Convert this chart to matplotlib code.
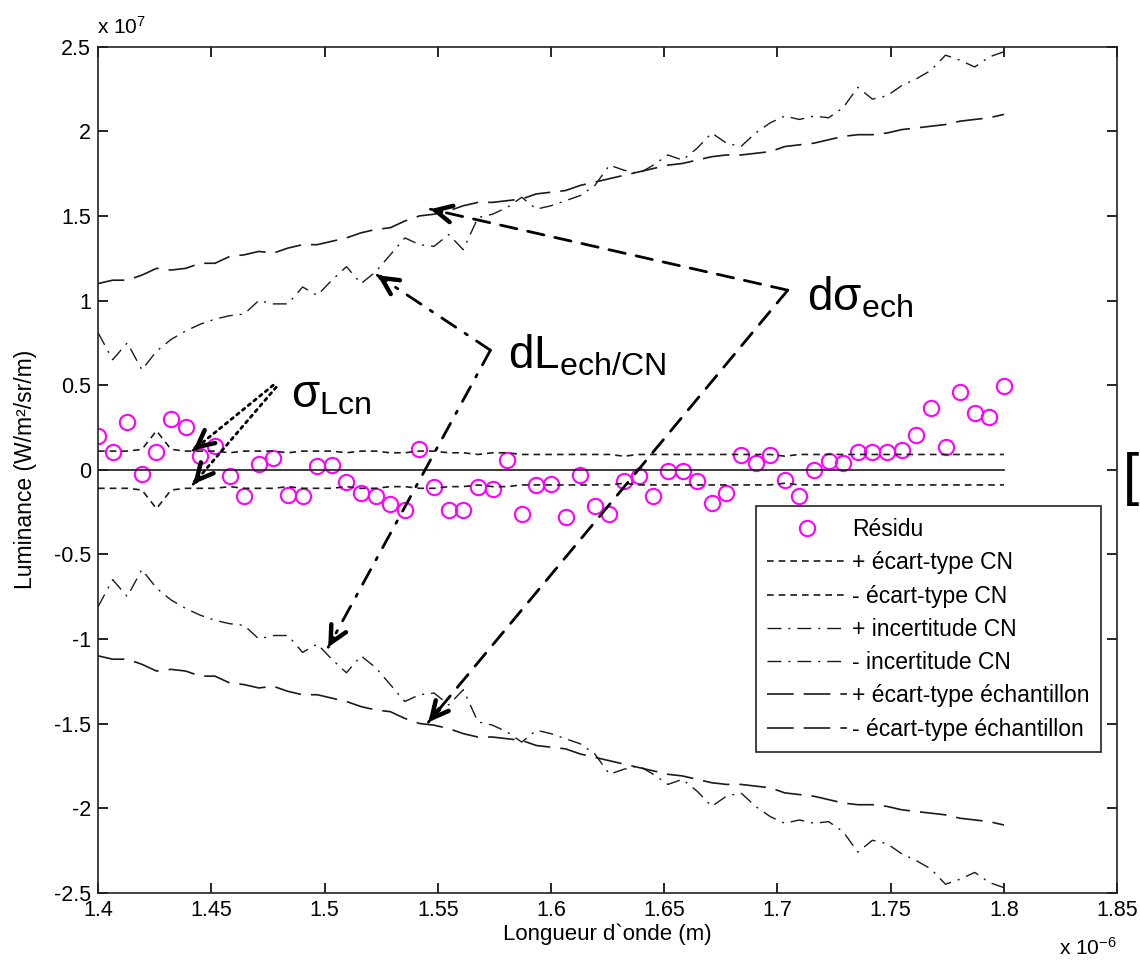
import numpy as np
import matplotlib
matplotlib.use('Agg')
import matplotlib.pyplot as plt

plt.rcParams['font.family'] = ['Liberation Sans', 'DejaVu Sans']
plt.rcParams['mathtext.default'] = 'regular'

# wavelength grid (x 1e-6 m), 63 samples between 1.4 and 1.8
wl = np.linspace(1.4, 1.8, 63)

# values in units of 1e7 W/m2/sr/m
residu = [0.20, 0.103, 0.28, -0.025, 0.103, 0.30, 0.25, 0.08, 0.14, -0.035,
          -0.157, 0.033, 0.072, -0.149, -0.157, 0.023, 0.028, -0.074, -0.137, -0.157,
          -0.20, -0.24, 0.125, -0.10, -0.24, -0.24, -0.10, -0.115, 0.056, -0.263,
          -0.092, -0.086, -0.279, -0.033, -0.216, -0.259, -0.068, -0.038, -0.155, -0.007,
          -0.007, -0.068, -0.196, -0.137, 0.086, 0.04, 0.086, -0.062, -0.155, 0.001,
          0.052, 0.04, 0.105, 0.105, 0.105, 0.119, 0.208, 0.365, 0.135, 0.46,
          0.336, 0.312, 0.494]

sigma_cn = [0.11, 0.11, 0.11, 0.12, 0.23, 0.12, 0.11, 0.11, 0.11, 0.10,
            0.11, 0.11, 0.11, 0.10, 0.11, 0.11, 0.11, 0.10, 0.11, 0.11,
            0.10, 0.10, 0.11, 0.11, 0.10, 0.10, 0.09, 0.10, 0.10, 0.09,
            0.09, 0.09, 0.09, 0.09, 0.09, 0.09, 0.08, 0.09, 0.09, 0.09,
            0.09, 0.09, 0.09, 0.09, 0.09, 0.09, 0.09, 0.08, 0.09, 0.09,
            0.09, 0.09, 0.09, 0.09, 0.09, 0.09, 0.09, 0.09, 0.09, 0.09,
            0.09, 0.09, 0.09]

incert_cn = [0.81, 0.65, 0.75, 0.59, 0.70, 0.77, 0.82, 0.86, 0.89, 0.91,
             0.92, 1.00, 0.98, 0.98, 1.08, 1.03, 1.12, 1.20, 1.10, 1.17,
             1.27, 1.37, 1.33, 1.32, 1.39, 1.30, 1.49, 1.51, 1.55, 1.61,
             1.54, 1.56, 1.59, 1.62, 1.68, 1.80, 1.77, 1.75, 1.80, 1.86,
             1.83, 1.90, 1.99, 1.93, 1.91, 1.99, 2.05, 2.09, 2.07, 2.09,
             2.08, 2.14, 2.26, 2.19, 2.21, 2.27, 2.31, 2.36, 2.45, 2.42,
             2.38, 2.44, 2.47]

sigma_ech = [1.10, 1.12, 1.12, 1.15, 1.19, 1.18, 1.19, 1.22, 1.22, 1.26,
             1.27, 1.29, 1.28, 1.31, 1.33, 1.33, 1.35, 1.37, 1.40, 1.42,
             1.43, 1.47, 1.50, 1.51, 1.53, 1.56, 1.58, 1.58, 1.59, 1.60,
             1.63, 1.64, 1.65, 1.68, 1.70, 1.72, 1.74, 1.76, 1.78, 1.80,
             1.81, 1.83, 1.85, 1.86, 1.86, 1.87, 1.88, 1.91, 1.92, 1.93,
             1.95, 1.97, 1.98, 1.98, 1.99, 2.01, 2.02, 2.03, 2.04, 2.06,
             2.07, 2.08, 2.10]

sigma_cn = np.array(sigma_cn)
incert_cn = np.array(incert_cn)
sigma_ech = np.array(sigma_ech)

LINE = '#1a1a1a'
MAGENTA = '#ff00ff'

fig = plt.figure(figsize=(11.4, 9.63), dpi=100)
ax = fig.add_axes([0.086, 0.073, 0.894, 0.8785])

ax.plot(wl, residu, 'o', mfc='none', mec=MAGENTA, ms=11, mew=1.5, label='Résidu')
ax.plot(wl, sigma_cn, color=LINE, lw=1.2, dashes=(4, 3), label='+ écart-type CN')
ax.plot(wl, -sigma_cn, color=LINE, lw=1.2, dashes=(4, 3), label='- écart-type CN')
ax.plot(wl, incert_cn, color=LINE, lw=1.0, dashes=(10, 5, 1.5, 5), label='+ incertitude CN')
ax.plot(wl, -incert_cn, color=LINE, lw=1.0, dashes=(10, 5, 1.5, 5), label='- incertitude CN')
ax.plot(wl, sigma_ech, color=LINE, lw=1.2, dashes=(16, 6), label='+ écart-type échantillon')
ax.plot(wl, -sigma_ech, color=LINE, lw=1.2, dashes=(16, 6), label='- écart-type échantillon')
ax.plot([wl[0], wl[-1]], [0, 0], color=LINE, lw=1.2)

ax.set_xlim(1.4, 1.85)
ax.set_ylim(-2.5, 2.5)
ax.set_xticks(np.arange(1.4, 1.851, 0.05))
ax.set_xticklabels(['1.4', '1.45', '1.5', '1.55', '1.6', '1.65', '1.7', '1.75', '1.8', '1.85'])
ax.set_yticks(np.arange(-2.5, 2.51, 0.5))
ax.set_yticklabels(['-2.5', '-2', '-1.5', '-1', '-0.5', '0', '0.5', '1', '1.5', '2', '2.5'])
ax.tick_params(direction='in', length=7, width=1.2, labelsize=15.5, top=True, right=True, pad=5)
for s in ax.spines.values():
    s.set_linewidth(1.2)
    s.set_color('#222222')

ax.set_xlabel("Longueur d`onde (m)", fontsize=16, labelpad=2)
ax.set_ylabel('Luminance (W/m²/sr/m)', fontsize=16.5, labelpad=12)

fig.text(0.085, 0.965, r'x 10$^{7}$', fontsize=15, ha='left', va='baseline')
fig.text(0.929, 0.004, r'x 10$^{-6}$', fontsize=15, ha='left', va='bottom')

leg = ax.legend(loc='lower right', bbox_to_anchor=(0.984, 0.166), borderaxespad=0,
                fontsize=16.5, fancybox=False, framealpha=1, edgecolor='#222222',
                handlelength=3.5, handletextpad=0.2, labelspacing=0.45, borderpad=0.5)
leg.get_frame().set_linewidth(1.2)


# pixel -> data helpers (reference image coordinates)
def px(xp, yp):
    return 1.4 + (xp - 98) / 2262.5, (469.5 - yp) / 169.2


def arrow(start, tip, ls, lw):
    s = px(*start)
    t = px(*tip)
    ax.annotate('', xy=t, xytext=s, arrowprops=dict(arrowstyle='-', ls=ls, lw=lw,
                                                     color='black', shrinkA=0, shrinkB=0))
    h = (t[0] + 0.03 * (s[0] - t[0]), t[1] + 0.03 * (s[1] - t[1]))
    ax.annotate('', xy=t, xytext=h, arrowprops=dict(arrowstyle='->,head_length=1.2,head_width=0.6',
                                                     lw=3.2, color='black', shrinkA=0, shrinkB=0))


arrow((273, 385), (193, 450), ':', 2.0)
arrow((276, 387), (193, 484), ':', 2.0)
arrow((490, 350), (377, 275), (0, (6, 4, 1, 4)), 2.0)
arrow((490, 350), (328, 647), (0, (6, 4, 1, 4)), 2.0)
arrow((787, 290), (430, 209), (0, (6, 4)), 2.0)
arrow((787, 290), (428, 722), (0, (6, 4)), 2.0)

x0, y0 = px(291, 407)
ax.text(x0, y0, r'$\sigma_{Lcn}$', fontsize=33, ha='left', va='baseline')
x0, y0 = px(508, 368)
ax.text(x0, y0, r'$dL_{ech/CN}$', fontsize=33, ha='left', va='baseline')
x0, y0 = px(806, 310)
ax.text(x0, y0, r'$d\sigma_{ech}$', fontsize=33, ha='left', va='baseline')

fig.text(1123 / 1140, 1 - 479 / 963, '[', fontsize=42, ha='left', va='center')

fig.savefig('out.png', dpi=100)
